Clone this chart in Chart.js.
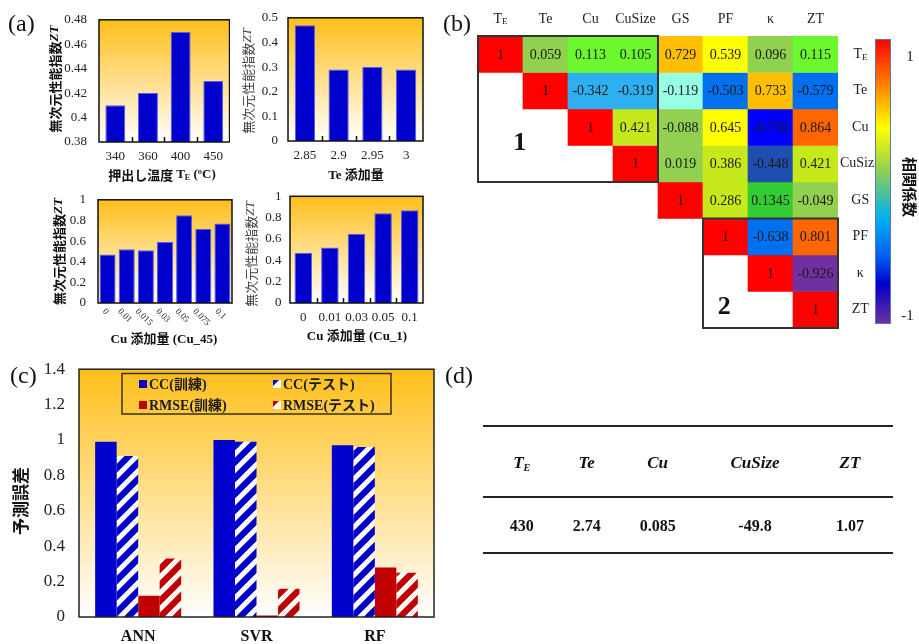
<!DOCTYPE html>
<html lang="ja">
<head>
<meta charset="utf-8">
<title>ZT 予測</title>
<script src="https://cdn.jsdelivr.net/npm/chart.js@4.4.1/dist/chart.umd.min.js"></script>
<style>
  html, body { margin: 0; padding: 0; background: #fff; }
  #page { position: relative; width: 919px; height: 644px; overflow: hidden; font-family: 'Liberation Serif', 'Noto Sans CJK JP', serif; color: #111; }
  #page canvas { position: absolute; }
  .tag { position: absolute; font-size: 24px; line-height: 24px; }
  .rule { position: absolute; left: 483px; width: 410px; height: 0; border-top: 2px solid #222; }
  .cell { position: absolute; width: 110px; height: 24px; line-height: 24px; text-align: center; font-weight: bold; font-size: 16px; }
  .cell.head { font-style: italic; font-size: 17px; }
  .cell sub { font-size: 10px; vertical-align: -3px; line-height: 0; }
</style>
</head>
<body>
<div id="page">
  <canvas id="cTE" width="230" height="190" style="left:0;top:0"></canvas>
  <canvas id="cTe" width="230" height="190" style="left:230px;top:0"></canvas>
  <canvas id="cCu45" width="234" height="170" style="left:0;top:180px"></canvas>
  <canvas id="cCu1" width="226" height="170" style="left:234px;top:180px"></canvas>
  <canvas id="cHeat" width="459" height="340" style="left:460px;top:0"></canvas>
  <canvas id="cModel" width="470" height="299" style="left:0;top:345px"></canvas>
  <div class="tag" style="left:8px;top:11px">(a)</div>
  <div class="tag" style="left:443px;top:11px">(b)</div>
  <div class="tag" style="left:10px;top:363px">(c)</div>
  <div class="tag" style="left:445px;top:363px">(d)</div>
  <div class="rule" style="top:425px"></div>
  <div class="rule" style="top:496px"></div>
  <div class="rule" style="top:552px"></div>
  <div id="table"></div>
</div>
<script>
// (a) ZT vs process parameters
const teTemps = ['340', '360', '400', '450'];
const teZT = [0.41, 0.42, 0.47, 0.43];
const teAmounts = ['2.85', '2.9', '2.95', '3'];
const teAmountZT = [0.47, 0.29, 0.30, 0.29];
const cu45Amounts = ['0', '0.01', '0.015', '0.03', '0.05', '0.075', '0.1'];
const cu45ZT = [0.47, 0.52, 0.51, 0.59, 0.85, 0.72, 0.77];
const cu1Amounts = ['0', '0.01', '0.03', '0.05', '0.1'];
const cu1ZT = [0.47, 0.52, 0.65, 0.84, 0.87];

// (b) correlation matrix, each row starts at the diagonal
const heatVars = ['T_E', 'Te', 'Cu', 'CuSize', 'GS', 'PF', 'κ', 'ZT'];
const corrTE = [1, 0.059, 0.113, 0.105, 0.729, 0.539, 0.096, 0.115];
const corrTe = [1, -0.342, -0.319, -0.119, -0.503, 0.733, -0.579];
const corrCu = [1, 0.421, -0.088, 0.645, -0.756, 0.864];
const corrCuSize = [1, 0.019, 0.386, -0.448, 0.421];
const corrGS = [1, 0.286, 0.1345, -0.049];
const corrPF = [1, -0.638, 0.801];
const corrKappa = [1, -0.926];
const corrZT = [1];
const corrRows = [corrTE, corrTe, corrCu, corrCuSize, corrGS, corrPF, corrKappa, corrZT];

// (c) model accuracy
const models = ['ANN', 'SVR', 'RF'];
const ccTrain = [0.99, 1.00, 0.97];
const ccTest = [0.91, 0.99, 0.96];
const rmseTrain = [0.12, 0.008, 0.28];
const rmseTest = [0.33, 0.16, 0.25];

// (d) optimum
const optimumHeads = ['T_E', 'Te', 'Cu', 'CuSize', 'ZT'];
const optimumValues = ['430', '2.74', '0.085', '-49.8', '1.07'];

const SERIF = "'Liberation Serif', serif";
const JP = "'Noto Sans CJK JP', sans-serif";
const MIX = "'Liberation Serif', 'Noto Sans CJK JP', serif";

function tickText(v) {
  return String(Math.round(v * 100) / 100);
}

// draws a run of differently styled text pieces centred on x,y
function drawParts(ctx, parts, x, y, rot, color) {
  ctx.save();
  ctx.translate(x, y);
  if (rot) ctx.rotate(rot);
  ctx.textBaseline = 'middle';
  ctx.textAlign = 'left';
  let w = 0;
  parts.forEach(p => { ctx.font = p.f; w += ctx.measureText(p.t).width; });
  let cx = -w / 2;
  parts.forEach(p => {
    ctx.font = p.f;
    ctx.fillStyle = p.c || color || '#111';
    ctx.fillText(p.t, cx, p.dy || 0);
    cx += ctx.measureText(p.t).width;
  });
  ctx.restore();
}

function ztTitle(bold) {
  const b = bold ? 'bold ' : '';
  return [
    { t: '無次元性能指数', f: b + '13px ' + JP, c: bold ? '#111' : '#444' },
    { t: 'ZT', f: b + 'italic 13px ' + SERIF, c: bold ? '#111' : '#444' }
  ];
}

function hatch(color) {
  const s = 16;
  const c = document.createElement('canvas');
  c.width = c.height = s;
  const g = c.getContext('2d');
  g.fillStyle = '#fff';
  g.fillRect(0, 0, s, s);
  g.strokeStyle = color;
  g.lineWidth = 6.2;
  g.beginPath();
  g.moveTo(0, s); g.lineTo(s, 0);
  g.moveTo(-s / 2, s / 2); g.lineTo(s / 2, -s / 2);
  g.moveTo(s / 2, s * 1.5); g.lineTo(s * 1.5, s / 2);
  g.stroke();
  return g.createPattern(c, 'repeat');
}

const plotDecor = {
  id: 'plotDecor',
  beforeDatasetsDraw(chart) {
    const { ctx, chartArea: a } = chart;
    const g = ctx.createLinearGradient(0, a.top, 0, a.bottom);
    g.addColorStop(0, '#ffbf1a');
    g.addColorStop(1, '#ffffff');
    ctx.save();
    ctx.fillStyle = g;
    ctx.fillRect(a.left, a.top, a.width, a.height);
    ctx.restore();
  },
  afterDraw(chart, args, o) {
    const { ctx, chartArea: a } = chart;
    ctx.save();
    ctx.strokeStyle = o.frame || '#111';
    ctx.lineWidth = 1.5;
    ctx.strokeRect(a.left, a.top, a.width, a.height);
    const n = chart.data.labels.length;
    if (o.marks) {
      ctx.beginPath();
      for (let i = 1; i < n; i++) {
        const x = Math.round(a.left + i * a.width / n) + 0.5;
        ctx.moveTo(x, a.bottom);
        ctx.lineTo(x, a.bottom - 5);
      }
      ctx.stroke();
    }
    if (o.slant) {
      const xs = chart.scales.x;
      ctx.font = '9px ' + SERIF;
      chart.data.labels.forEach((l, i) => {
        const w = ctx.measureText(l).width;
        const cy = a.bottom + 7 + w * 0.3536;
        drawParts(ctx, [{ t: l, f: '9px ' + SERIF }], xs.getPixelForTick(i) - 2, cy, Math.PI / 4, '#222');
      });
    }
    (o.titles || []).forEach(t => drawParts(ctx, t.parts, t.x, t.y, t.rot || 0));
    ctx.restore();
  }
};

function ztChart(id, labels, values, s) {
  return new Chart(document.getElementById(id), {
    type: 'bar',
    data: {
      labels: labels,
      datasets: [{
        data: values,
        backgroundColor: '#0000cc',
        borderColor: '#5b5bf0',
        borderWidth: 1,
        barPercentage: s.bar,
        categoryPercentage: 1
      }]
    },
    options: {
      responsive: false,
      animation: false,
      layout: { padding: s.pad },
      plugins: {
        legend: { display: false },
        tooltip: { enabled: false },
        plotDecor: { marks: s.marks, slant: s.slant, titles: s.titles }
      },
      scales: {
        x: {
          grid: { display: false, drawTicks: false },
          border: { display: false },
          ticks: { display: !s.slant, color: '#222', font: { family: SERIF, size: 13 }, padding: s.xPad, maxRotation: 0, autoSkip: false },
          afterFit: sc => { sc.height = s.xH; }
        },
        y: {
          min: s.min, max: s.max,
          grid: { display: false, drawTicks: false },
          border: { display: false },
          ticks: { stepSize: s.step, color: '#222', font: { family: SERIF, size: 13 }, padding: s.yPad, callback: tickText },
          afterFit: sc => { sc.width = s.yW; }
        }
      }
    },
    plugins: [plotDecor]
  });
}

const V = -Math.PI / 2;

ztChart('cTE', teTemps, teZT, {
  pad: { left: 0, top: 17, right: 0, bottom: 0 }, yW: 99, xH: 48, bar: 0.61, yPad: 12, xPad: 7,
  min: 0.38, max: 0.48, step: 0.02, marks: true,
  titles: [
    { x: 55, y: 79, rot: V, parts: ztTitle(true) },
    { x: 162, y: 175, parts: [
      { t: '押出し温度 ', f: 'bold 13px ' + JP },
      { t: 'T', f: 'bold 13px ' + SERIF },
      { t: 'E', f: 'bold 8px ' + SERIF, dy: 3 },
      { t: ' (ºC)', f: 'bold 13px ' + SERIF }
    ] }
  ]
});

ztChart('cTe', teAmounts, teAmountZT, {
  pad: { left: 0, top: 17, right: 37, bottom: 0 }, yW: 58, xH: 49, bar: 0.6, yPad: 10, xPad: 7,
  min: 0, max: 0.5, step: 0.1, marks: true,
  titles: [
    { x: 18, y: 81, rot: V, parts: ztTitle(false) },
    { x: 126, y: 176, parts: [{ t: 'Te 添加量', f: 'bold 13px ' + MIX }] }
  ]
});

ztChart('cCu45', cu45Amounts, cu45ZT, {
  pad: { left: 0, top: 15, right: 2, bottom: 0 }, yW: 98, xH: 47, bar: 0.84, yPad: 12, xPad: 7,
  min: 0, max: 1, step: 0.2, slant: true,
  titles: [
    { x: 59, y: 71.5, rot: V, parts: ztTitle(true) },
    { x: 164, y: 160, parts: [{ t: 'Cu 添加量 (Cu_45)', f: 'bold 13px ' + MIX }] }
  ]
});

ztChart('cCu1', cu1Amounts, cu1ZT, {
  pad: { left: 0, top: 16, right: 37, bottom: 0 }, yW: 56, xH: 47, bar: 0.66, yPad: 8.5, xPad: 7,
  min: 0, max: 1, step: 0.2, marks: true,
  titles: [
    { x: 17, y: 74, rot: V, parts: ztTitle(false) },
    { x: 123, y: 157, parts: [{ t: 'Cu 添加量 (Cu_1)', f: 'bold 13px ' + MIX }] }
  ]
});

// ---- (b) heat map ----
function corrColor(v) {
  if (v >= 0.95) return '#ff0000';
  if (v >= 0.8) return '#ff6600';
  if (v >= 0.7) return '#ffbf00';
  if (v >= 0.5) return '#ffff00';
  if (v >= 0.2) return '#c6e91c';
  if (v >= 0.12) return '#33cc33';
  if (v >= 0.1) return '#6cf82e';
  if (v >= -0.1) return '#92d050';
  if (v >= -0.2) return '#99ffe4';
  if (v >= -0.4) return '#2eb0f0';
  if (v >= -0.47) return '#1f4fae';
  if (v >= -0.7) return '#0070f0';
  if (v >= -0.8) return '#0000ff';
  return '#7030a0';
}

const heatDecor = {
  id: 'heatDecor',
  afterDatasetsDraw(chart) {
    const ctx = chart.ctx;
    ctx.save();
    ctx.font = '14px ' + SERIF;
    ctx.fillStyle = '#1a1a1a';
    ctx.textAlign = 'center';
    ctx.textBaseline = 'middle';
    chart.data.datasets.forEach((ds, r) => {
      chart.getDatasetMeta(r).data.forEach((el, c) => {
        if (c < r) return;
        ctx.fillText(String(corrRows[r][c - r]), el.x, (el.y + el.base) / 2 + 1);
      });
    });
    ctx.restore();
  },
  afterDraw(chart) {
    const { ctx, chartArea: a, scales } = chart;
    const n = heatVars.length;
    const cw = a.width / n, rh = a.height / n;
    ctx.save();
    ctx.strokeStyle = '#333';
    ctx.lineWidth = 2;
    ctx.strokeRect(a.left, a.top, 4 * cw, 4 * rh);
    ctx.strokeRect(a.left + 5 * cw, a.top + 5 * rh, 3 * cw, 3 * rh);
    ctx.font = 'bold 26px ' + SERIF;
    ctx.fillStyle = '#111';
    ctx.textAlign = 'center';
    ctx.textBaseline = 'middle';
    ctx.fillText('1', a.left + 0.93 * cw, a.top + 2.95 * rh);
    ctx.fillText('2', a.left + 5.47 * cw, a.top + 7.44 * rh);
    heatVars.forEach((v, i) => {
      if (!v.includes('_')) return;
      const [b, sub] = v.split('_');
      const parts = [{ t: b, f: '14px ' + SERIF }, { t: sub, f: '9px ' + SERIF, dy: 3 }];
      drawParts(ctx, parts, scales.x.getPixelForTick(i), 19, 0, '#222');
      drawParts(ctx, parts, a.right + 22.5, scales.y.getPixelForValue(i + 0.5), 0, '#222');
    });
    // colour bar
    const bx = a.right + 37, by = 39, bw = 16, bh = 285;
    const g = ctx.createLinearGradient(0, by, 0, by + bh);
    g.addColorStop(0, '#ff0000');
    g.addColorStop(0.16, '#ff8000');
    g.addColorStop(0.31, '#ffff00');
    g.addColorStop(0.46, '#92d050');
    g.addColorStop(0.63, '#00b0f0');
    g.addColorStop(0.76, '#0060f0');
    g.addColorStop(0.86, '#0000cc');
    g.addColorStop(1, '#7030a0');
    ctx.fillStyle = g;
    ctx.fillRect(bx, by, bw, bh);
    ctx.strokeStyle = '#5a78a8';
    ctx.lineWidth = 1;
    ctx.strokeRect(bx + 0.5, by + 0.5, bw - 1, bh - 1);
    drawParts(ctx, [{ t: '1', f: '15px ' + SERIF }], bx + 35, 57.5, 0, '#222');
    drawParts(ctx, [{ t: '-1', f: '15px ' + SERIF }], bx + 32.5, 316.5, 0, '#222');
    drawParts(ctx, [{ t: '相関係数', f: 'bold 15px ' + JP }], bx + 35, 187, Math.PI / 2, '#111');
    ctx.restore();
  }
};

const heatDatasets = corrRows.map((row, r) => ({
  label: heatVars[r],
  data: heatVars.map((_, c) => (c >= r ? [r, r + 1] : null)),
  backgroundColor: heatVars.map((_, c) => (c >= r ? corrColor(row[c - r]) : 'rgba(0,0,0,0)')),
  borderWidth: 0,
  grouped: false,
  barPercentage: 1,
  categoryPercentage: 1
}));

new Chart(document.getElementById('cHeat'), {
  type: 'bar',
  data: { labels: heatVars, datasets: heatDatasets },
  options: {
    responsive: false,
    animation: false,
    layout: { padding: { left: 18, top: 0, right: 37, bottom: 12 } },
    plugins: { legend: { display: false }, tooltip: { enabled: false } },
    scales: {
      x: {
        position: 'top',
        offset: true,
        grid: { display: false, drawTicks: false },
        border: { display: false },
        ticks: {
          color: '#222', font: { family: SERIF, size: 14 }, padding: 8.6, autoSkip: false, maxRotation: 0,
          callback: (v, i) => (heatVars[i].includes('_') ? '' : heatVars[i])
        },
        afterFit: s => { s.height = 36; }
      },
      y: {
        position: 'right',
        min: 0, max: 8,
        reverse: true,
        grid: { display: false, drawTicks: false },
        border: { display: false },
        afterBuildTicks: s => { s.ticks = heatVars.map((_, i) => ({ value: i + 0.5 })); },
        ticks: {
          color: '#222', font: { family: SERIF, size: 14 }, padding: 2, crossAlign: 'center',
          callback: (v, i) => (heatVars[i].includes('_') ? '' : heatVars[i])
        },
        afterFit: s => { s.width = 44; }
      }
    }
  },
  plugins: [heatDecor]
});

// ---- (c) model comparison ----
const modelLegend = {
  id: 'modelLegend',
  afterDraw(chart) {
    const ctx = chart.ctx;
    ctx.save();
    ctx.strokeStyle = '#3a3018';
    ctx.lineWidth = 1.5;
    ctx.strokeRect(122, 28.5, 269, 40.5);
    const colX = [139, 273], rowY = [39, 60];
    chart.data.datasets.forEach((ds, i) => {
      const x = colX[i % 2], y = rowY[Math.floor(i / 2)];
      if (ds.legendTint) {
        ctx.fillStyle = '#fff';
        ctx.fillRect(x, y - 4, 8, 8);
        ctx.fillStyle = ds.legendTint;
        ctx.beginPath();
        ctx.moveTo(x, y - 4); ctx.lineTo(x + 6, y - 4); ctx.lineTo(x, y + 2);
        ctx.closePath();
        ctx.fill();
      } else {
        ctx.fillStyle = ds.backgroundColor;
        ctx.fillRect(x, y - 4, 8, 8);
      }
      ctx.fillStyle = '#1a1a1a';
      ctx.font = 'bold 14px ' + MIX;
      ctx.textAlign = 'left';
      ctx.textBaseline = 'middle';
      ctx.fillText(ds.label, x + 10, y + 1);
    });
    ctx.restore();
  }
};

new Chart(document.getElementById('cModel'), {
  type: 'bar',
  data: {
    labels: models,
    datasets: [
      { label: 'CC(訓練)', data: ccTrain, backgroundColor: '#0000cc' },
      { label: 'CC(テスト)', data: ccTest, backgroundColor: hatch('#0000cc'), legendTint: '#0000cc' },
      { label: 'RMSE(訓練)', data: rmseTrain, backgroundColor: '#c00000' },
      { label: 'RMSE(テスト)', data: rmseTest, backgroundColor: hatch('#c00000'), legendTint: '#c00000' }
    ]
  },
  options: {
    responsive: false,
    animation: false,
    layout: { padding: { left: 0, top: 17, right: 36, bottom: 0 } },
    datasets: { bar: { barPercentage: 1, categoryPercentage: 0.727, borderWidth: 0 } },
    plugins: {
      legend: { display: false },
      tooltip: { enabled: false },
      plotDecor: { frame: '#222', titles: [{ x: 21, y: 156, rot: V, parts: [{ t: '予測誤差', f: 'bold 17px ' + JP }] }] }
    },
    scales: {
      x: {
        grid: { display: false, drawTicks: false },
        border: { display: false },
        ticks: { color: '#111', font: { family: SERIF, size: 16, weight: 'bold' }, padding: 10 },
        afterFit: s => { s.height = 27; }
      },
      y: {
        min: 0, max: 1.4,
        grid: { display: false, drawTicks: false },
        border: { display: false },
        ticks: { stepSize: 0.2, color: '#222', font: { family: SERIF, size: 17 }, padding: 14, callback: tickText },
        afterFit: s => { s.width = 79; }
      }
    }
  },
  plugins: [plotDecor, modelLegend]
});

// ---- (d) optimum table ----
const colCenters = [521.7, 586.7, 657.7, 755, 850];
const table = document.getElementById('table');
function cellHtml(t) {
  if (!t.includes('_')) return t;
  const [b, sub] = t.split('_');
  return b + '<sub>' + sub + '</sub>';
}
optimumHeads.forEach((h, i) => {
  const d = document.createElement('div');
  d.className = 'cell head';
  d.style.left = (colCenters[i] - 55) + 'px';
  d.style.top = '451px';
  d.innerHTML = cellHtml(h);
  table.appendChild(d);
  const v = document.createElement('div');
  v.className = 'cell';
  v.style.left = (colCenters[i] - 55) + 'px';
  v.style.top = '514px';
  v.textContent = optimumValues[i];
  table.appendChild(v);
});
</script>
</body>
</html>
